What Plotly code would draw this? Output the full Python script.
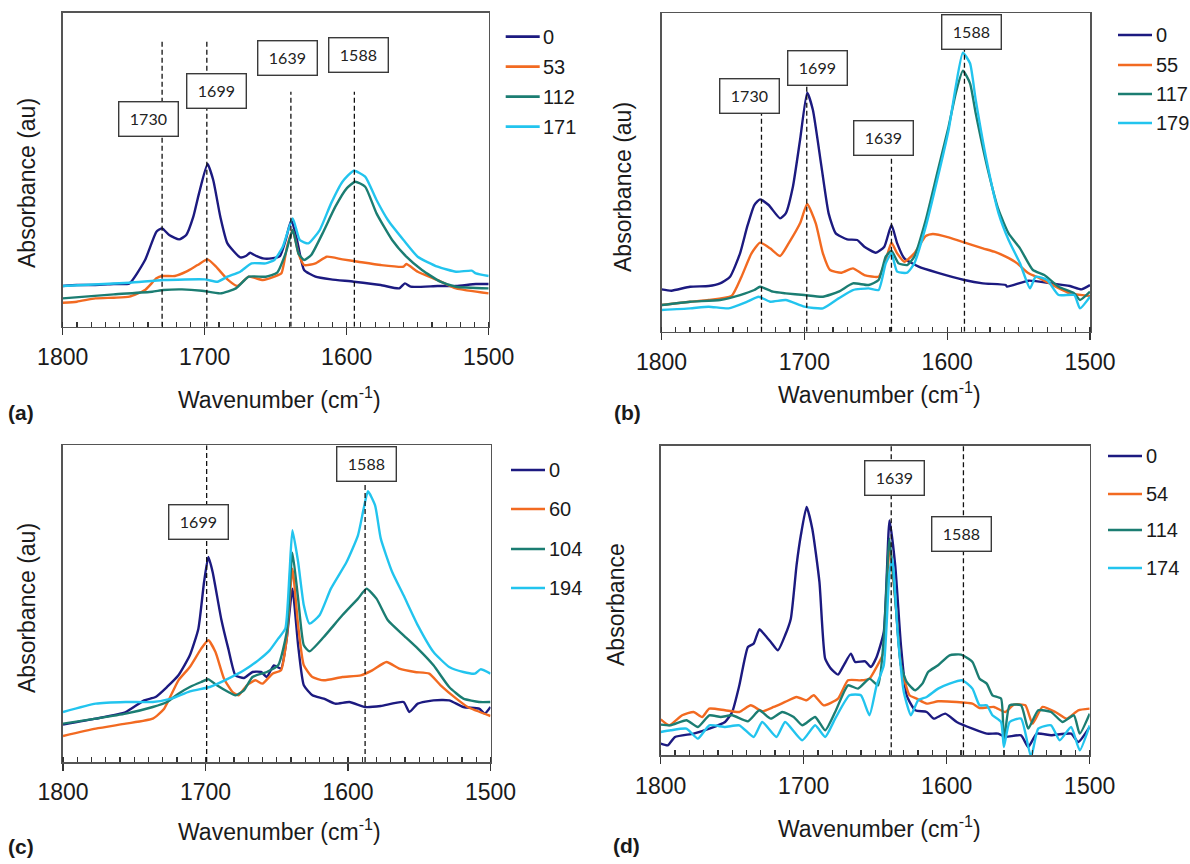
import plotly.graph_objects as go

W, H = 1190, 864

# ---------------- data (arbitrary absorbance units) ----------------
# panel (a)
a_names = ["0", "53", "112", "171"]
a0_wn = [1800,1790,1777,1764,1753,1742,1734,1730,1725,1718,1713,1708,1704,1698,1694,1689,1684,1675,1671,1668,1665,1659,1653,1647,1643,1639,1635,1630,1622,1611,1595,1576,1563,1559,1555,1536,1523,1509,1500]
a0_y = [122,125,125,128,130,200,285,295,275,262,275,330,400,488,440,330,250,208,212,222,215,205,205,212,260,320,260,170,150,142,135,125,115,130,120,122,122,128,128]
a1_wn = [1800,1790,1777,1764,1753,1742,1734,1730,1721,1713,1705,1698,1692,1684,1677,1669,1659,1651,1646,1642,1638,1634,1630,1622,1614,1603,1592,1576,1560,1558,1550,1536,1523,1500]
a1_y = [72,75,85,87,90,110,145,152,152,165,185,202,180,142,122,150,140,150,160,240,290,220,185,190,210,202,195,185,180,188,165,140,115,100]
a2_wn = [1800,1764,1737,1729,1716,1702,1689,1678,1669,1657,1649,1643,1638,1634,1630,1625,1617,1608,1600,1594,1587,1579,1568,1558,1547,1534,1523,1500]
a2_y = [85,97,105,110,112,108,100,115,150,150,162,220,290,220,200,215,280,360,415,435,420,340,260,210,170,135,120,115]
a3_wn = [1800,1753,1729,1700,1691,1684,1675,1667,1657,1651,1645,1638,1633,1627,1619,1611,1603,1595,1587,1579,1571,1560,1550,1536,1523,1512,1509,1500]
a3_y = [122,132,140,142,135,150,165,190,190,200,240,325,260,250,290,370,435,468,450,380,320,260,210,180,165,168,160,152]

# panel (b)
b_names = ["0", "55", "117", "179"]
b0_wn = [1800,1793,1780,1767,1759,1752,1745,1740,1735,1731,1725,1717,1713,1708,1703,1698,1694,1688,1683,1678,1670,1663,1658,1650,1644,1639,1635,1630,1620,1607,1588,1575,1559,1558,1543,1527,1514,1506,1500]
b0_y = [127,123,135,137,145,165,235,315,380,397,380,340,355,435,575,717,665,495,355,295,277,275,255,237,255,320,265,220,195,177,155,145,140,135,153,145,137,127,140]
b1_wn = [1800,1780,1767,1751,1744,1737,1731,1724,1717,1711,1703,1698,1692,1687,1682,1674,1666,1658,1648,1643,1639,1635,1630,1623,1615,1610,1599,1586,1575,1567,1559,1551,1543,1535,1524,1514,1500]
b1_y = [80,90,95,107,165,235,267,250,227,265,325,383,325,235,185,177,190,170,165,215,267,235,210,235,287,293,283,265,250,240,225,205,175,160,135,115,107]
b2_wn = [1800,1780,1759,1745,1735,1731,1722,1713,1700,1687,1676,1666,1655,1648,1643,1639,1634,1628,1623,1615,1607,1599,1594,1589,1584,1580,1572,1564,1557,1549,1540,1532,1522,1511,1507,1500]
b2_y = [80,90,95,110,125,135,120,115,110,105,120,145,140,155,225,243,205,200,225,335,475,615,715,783,745,655,495,365,295,250,185,170,135,115,95,120]
b3_wn = [1800,1780,1767,1753,1740,1732,1724,1713,1700,1687,1676,1666,1655,1648,1643,1639,1635,1628,1623,1615,1607,1599,1594,1589,1584,1580,1572,1564,1557,1549,1542,1538,1530,1522,1511,1507,1500]
b3_y = [65,70,75,70,90,105,90,95,75,70,100,125,130,125,205,235,180,177,205,315,455,605,735,837,805,695,505,355,275,205,130,165,155,110,110,70,105]

# panel (c)
c_names = ["0", "60", "104", "194"]
c0_wn = [1800,1777,1756,1743,1735,1727,1719,1711,1705,1701,1698,1695,1689,1684,1679,1673,1667,1661,1657,1652,1647,1643,1639,1635,1631,1625,1617,1609,1599,1588,1577,1561,1557,1551,1540,1529,1519,1508,1504,1500]
c0_y = [112,130,150,185,195,225,260,320,400,540,615,570,430,340,260,252,270,270,255,290,280,370,520,350,230,200,190,175,180,165,168,180,150,175,185,185,165,160,145,165]
c1_wn = [1800,1777,1756,1737,1729,1719,1711,1703,1698,1693,1687,1681,1677,1671,1665,1660,1653,1647,1643,1639,1635,1631,1625,1617,1604,1591,1583,1573,1564,1553,1543,1535,1524,1516,1500]
c1_y = [78,100,115,130,160,245,285,340,365,330,250,210,200,230,245,235,265,275,370,580,410,290,255,245,255,260,275,300,280,270,265,230,190,165,138]
c2_wn = [1800,1777,1756,1737,1727,1719,1711,1703,1698,1692,1684,1679,1673,1667,1657,1649,1643,1639,1635,1631,1627,1617,1604,1593,1587,1580,1572,1561,1551,1540,1529,1519,1508,1500]
c2_y = [115,130,145,165,180,205,225,240,248,230,210,200,215,255,270,290,390,628,490,350,332,375,440,490,520,490,425,380,340,290,225,190,180,180]
c3_wn = [1800,1777,1756,1737,1724,1711,1697,1684,1673,1663,1655,1649,1644,1641,1639,1635,1631,1627,1620,1612,1601,1593,1589,1586,1581,1577,1569,1561,1551,1540,1529,1519,1511,1507,1500]
c3_y = [150,175,180,180,190,212,225,250,275,305,335,370,400,570,695,600,470,415,440,520,600,680,760,812,770,670,570,500,410,330,285,270,265,278,265]

# panel (d)
d_names = ["0", "54", "114", "174"]
d0_wn = [1800,1795,1790,1777,1766,1755,1750,1745,1739,1735,1731,1727,1723,1718,1713,1709,1705,1702,1698,1694,1689,1685,1681,1676,1672,1667,1664,1657,1653,1649,1644,1640,1636,1632,1628,1622,1614,1609,1601,1593,1582,1572,1564,1559,1548,1543,1537,1527,1513,1508,1500]
d0_y = [35,30,55,65,80,100,130,210,325,335,378,360,340,315,360,410,570,660,745,680,520,290,260,242,270,305,280,282,265,295,370,705,570,330,180,135,130,110,125,100,80,65,65,55,60,25,65,60,65,40,85]
d1_wn = [1800,1794,1785,1777,1771,1766,1755,1745,1737,1729,1721,1713,1705,1698,1693,1686,1676,1669,1660,1654,1649,1644,1640,1636,1632,1626,1621,1614,1606,1593,1582,1577,1567,1559,1553,1545,1540,1533,1524,1516,1508,1500]
d1_y = [108,90,120,130,115,140,135,130,150,132,145,160,175,165,180,150,170,225,225,230,265,310,630,470,270,180,170,155,162,160,155,142,145,130,152,150,95,145,130,110,135,140]
d2_wn = [1800,1793,1782,1774,1766,1758,1750,1739,1731,1723,1715,1707,1701,1692,1685,1678,1669,1662,1654,1648,1644,1640,1636,1632,1628,1622,1617,1613,1606,1598,1590,1582,1577,1572,1568,1562,1560,1556,1548,1543,1536,1527,1519,1511,1507,1500]
d2_y = [92,90,105,85,120,115,120,102,135,110,130,115,90,115,75,130,210,200,230,210,350,650,470,270,220,195,215,250,270,300,302,280,230,215,180,170,35,150,150,80,135,130,100,120,65,125]
d3_wn = [1800,1793,1782,1774,1766,1755,1745,1735,1729,1719,1713,1701,1692,1685,1678,1668,1660,1654,1649,1644,1640,1638,1634,1630,1625,1620,1614,1606,1598,1589,1582,1577,1572,1568,1562,1560,1556,1548,1541,1536,1527,1521,1513,1507,1500]
d3_y = [70,75,80,50,90,85,90,55,100,55,100,45,90,55,110,180,180,120,210,270,550,590,350,190,120,165,175,200,215,225,200,150,150,120,100,25,100,110,-5,80,90,45,85,15,90]

# reference peak lines: position, top of line; label boxes: text, x, y
a_lines_x = [1730, 1698.5, 1639.3, 1594.6]
a_lines_top = [860, 860, 705, 705]
a_box_text = ["1730", "1699", "1639", "1588"]
a_box_x = [1739.4, 1691.8, 1641.4, 1591.9]
a_box_y = [623, 707, 806, 816]

b_lines_x = [1730, 1698.3, 1639, 1587.9]
b_lines_top = [707, 790, 582, 900]
b_box_text = ["1730", "1699", "1639", "1588"]
b_box_x = [1738.2, 1691.1, 1644.8, 1582.8]
b_box_y = [707, 790, 582, 900]

c_lines_x = [1699.2, 1588]
c_lines_top = [950, 895]
c_box_text = ["1699", "1588"]
c_box_x = [1704.8, 1586.7]
c_box_y = [719, 895]

d_lines_x = [1638.8, 1588.3]
d_lines_top = [928, 928]
d_box_text = ["1639", "1588"]
d_box_x = [1636.7, 1589.6]
d_box_y = [831, 663]

x_ticks = [1800, 1700, 1600, 1500]

colors = ["#1c1a80", "#f26a21", "#1b7d72", "#22c4ee"]
FONT = "Liberation Sans, Arial, sans-serif"

panels = [
    dict(names=a_names, series=[(a0_wn, a0_y), (a1_wn, a1_y), (a2_wn, a2_y), (a3_wn, a3_y)],
         lx=a_lines_x, lt=a_lines_top, bt=a_box_text, bx=a_box_x, by=a_box_y,
         xd=(62.7, 488.7), yd=(12.7, 326.7), yr=942, ytitle="Absorbance (au)",
         ytx=27, yty=183, xtx=279, xty=398, lab="(a)", labx=21, laby=412,
         legx=505.7, legrows=[36.7, 66.7, 96.7, 126.7]),
    dict(names=b_names, series=[(b0_wn, b0_y), (b1_wn, b1_y), (b2_wn, b2_y), (b3_wn, b3_y)],
         lx=b_lines_x, lt=b_lines_top, bt=b_box_text, bx=b_box_x, by=b_box_y,
         xd=(661.5, 1090), yd=(13.3, 331.7), yr=955, ytitle="Absorbance (au)",
         ytx=623, yty=187, xtx=879, xty=393, lab="(b)", labx=627, laby=412,
         legx=1118, legrows=[35, 65, 94, 123]),
    dict(names=c_names, series=[(c0_wn, c0_y), (c1_wn, c1_y), (c2_wn, c2_y), (c3_wn, c3_y)],
         lx=c_lines_x, lt=c_lines_top, bt=c_box_text, bx=c_box_x, by=c_box_y,
         xd=(63, 490.5), yd=(445.3, 762), yr=950, ytitle="Absorbance (au)",
         ytx=27, yty=608, xtx=279, xty=830, lab="(c)", labx=21, laby=846,
         legx=511, legrows=[470, 509, 549, 588]),
    dict(names=d_names, series=[(d0_wn, d0_y), (d1_wn, d1_y), (d2_wn, d2_y), (d3_wn, d3_y)],
         lx=d_lines_x, lt=d_lines_top, bt=d_box_text, bx=d_box_x, by=d_box_y,
         xd=(660.7, 1089.7), yd=(446, 755.3), yr=928, ytitle="Absorbance",
         ytx=616, yty=605, xtx=879, xty=827, lab="(d)", labx=626, laby=845,
         legx=1108, legrows=[456, 494, 530, 568]),
]

fig = go.Figure()
annotations = []
shapes = []
layout = {}

for i, p in enumerate(panels):
    n = "" if i == 0 else str(i + 1)
    xa, ya = "x" + n, "y" + n
    for j, (wn, yv) in enumerate(p["series"]):
        fig.add_trace(go.Scatter(
            x=wn, y=yv, mode="lines", name=p["names"][j],
            line=dict(color=colors[j], width=2.4, shape="spline", smoothing=0.5),
            xaxis=xa, yaxis=ya, showlegend=False, hoverinfo="skip",
        ))
        # legend entry (drawn in figure pixels)
        ly = 1 - p["legrows"][j] / H
        shapes.append(dict(type="line", xref="paper", yref="paper",
                           x0=p["legx"] / W, x1=(p["legx"] + 34) / W, y0=ly, y1=ly,
                           line=dict(color=colors[j], width=2.7)))
        annotations.append(dict(text=p["names"][j], xref="paper", yref="paper",
                                x=(p["legx"] + 35.5) / W, y=ly, xanchor="left", yanchor="middle",
                                showarrow=False, font=dict(family=FONT, size=20, color="#1a1a1a")))
    layout["xaxis" + n] = dict(
        domain=[p["xd"][0] / W, p["xd"][1] / W], anchor=ya,
        range=[1800, 1500], tickvals=x_ticks, ticks="outside", ticklen=7,
        tickwidth=1.3, tickcolor="#333", showgrid=False, zeroline=False,
        showline=True, mirror=True, linecolor="#555", linewidth=1.6,
        tickfont=dict(family=FONT, size=23, color="#1a1a1a"),
        ticklabelstandoff=2, automargin=False,
        minor=dict(dtick=10, ticks="inside", ticklen=5, tickwidth=1.2, tickcolor="#333", showgrid=False),
    )
    layout["yaxis" + n] = dict(
        domain=[1 - p["yd"][1] / H, 1 - p["yd"][0] / H], anchor=xa,
        range=[0, p["yr"]], showticklabels=False, ticks="", showgrid=False,
        zeroline=False, showline=True, mirror=True, linecolor="#555", linewidth=1.6,
        automargin=False,
    )
    for lx, lt in zip(p["lx"], p["lt"]):
        shapes.append(dict(type="line", xref=xa, yref=ya, x0=lx, x1=lx, y0=0, y1=lt,
                           line=dict(color="#111", width=1.3, dash="5px,3px"), layer="above"))
    for t, bx, by in zip(p["bt"], p["bx"], p["by"]):
        annotations.append(dict(text=t, xref=xa, yref=ya, x=bx, y=by, showarrow=False,
                                font=dict(family="Lato, Carlito, sans-serif", size=16, color="#222"),
                                bgcolor="white", bordercolor="#3a3a3a", borderwidth=1.4,
                                width=56, height=31, borderpad=1, align="center", valign="middle"))
    annotations.append(dict(text=p["ytitle"], xref="paper", yref="paper", x=p["ytx"] / W,
                            y=1 - p["yty"] / H, textangle=-90, showarrow=False,
                            xanchor="center", yanchor="middle",
                            font=dict(family=FONT, size=23, color="#1a1a1a")))
    annotations.append(dict(text="Wavenumber (cm<sup>-1</sup>)", xref="paper", yref="paper",
                            x=p["xtx"] / W, y=1 - p["xty"] / H, showarrow=False,
                            xanchor="center", yanchor="middle",
                            font=dict(family=FONT, size=23, color="#1a1a1a")))
    annotations.append(dict(text="<b>" + p["lab"] + "</b>", xref="paper", yref="paper",
                            x=p["labx"] / W, y=1 - p["laby"] / H, showarrow=False,
                            xanchor="center", yanchor="middle",
                            font=dict(family=FONT, size=21, color="#1a1a1a")))

fig.update_layout(
    width=W, height=H, margin=dict(l=0, r=0, t=0, b=0, autoexpand=False),
    paper_bgcolor="white", plot_bgcolor="white", showlegend=False, hovermode=False,
    annotations=annotations, shapes=shapes, **layout,
)

fig.write_html("out.html", config={"displayModeBar": False, "staticPlot": True},
               post_script="document.body.style.margin='0px';document.body.style.padding='0px';"
                           "document.body.style.overflow='hidden';")
